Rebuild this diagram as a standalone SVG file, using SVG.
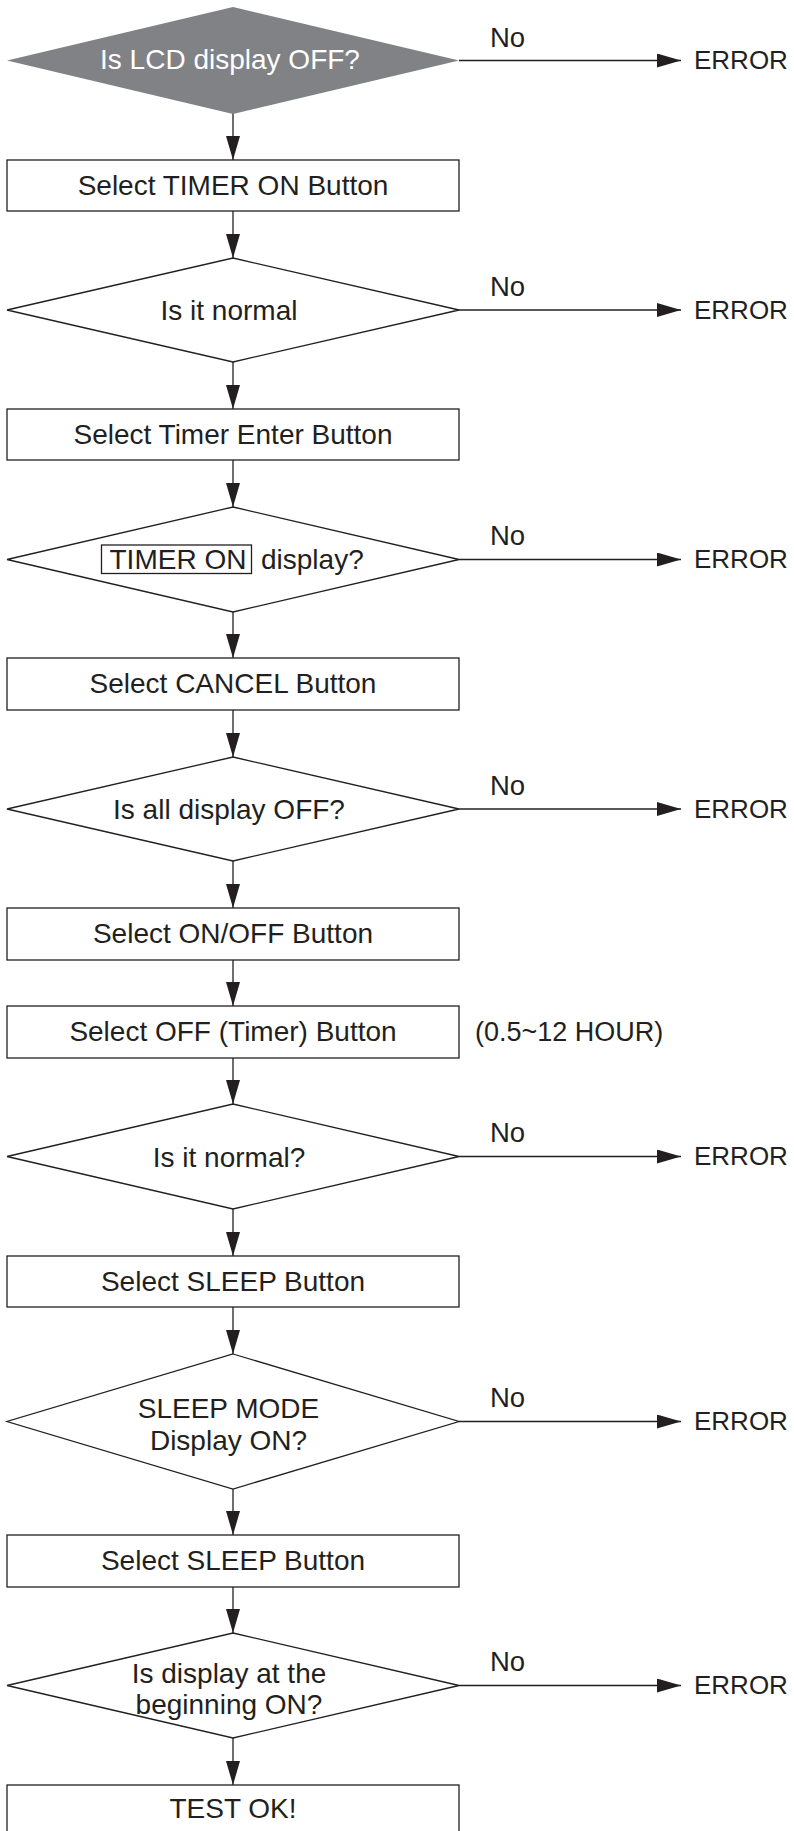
<svg xmlns="http://www.w3.org/2000/svg" width="794" height="1831" viewBox="0 0 794 1831">
<style>
.shape{fill:#fff;stroke:#231f20;stroke-width:1.3}
.dark{fill:#808285;stroke:none}
.t{font-family:"Liberation Sans",Arial,sans-serif;font-size:28px;fill:#231f20;text-anchor:middle}
.w{fill:#fff}
.l{text-anchor:start}
.note{font-size:27px}
.lbl{font-family:"Liberation Sans",Arial,sans-serif;font-size:26px;fill:#231f20}
.no{font-size:27.5px}
.c{fill:none;stroke:#231f20;stroke-width:1.3}
</style>
<defs>
<marker id="ah" markerUnits="userSpaceOnUse" markerWidth="24" markerHeight="14" refX="24" refY="7" orient="auto" viewBox="0 0 24 14">
<path d="M0,0 L24,7 L0,14 z" fill="#231f20"/>
</marker>
</defs>
<rect width="794" height="1831" fill="#fff"/>
<g id="connectors">
<path class="c" d="M233,113 V160" marker-end="url(#ah)"/>
<path class="c" d="M233,211 V258" marker-end="url(#ah)"/>
<path class="c" d="M233,362 V409" marker-end="url(#ah)"/>
<path class="c" d="M233,460 V507" marker-end="url(#ah)"/>
<path class="c" d="M233,612 V658" marker-end="url(#ah)"/>
<path class="c" d="M233,710 V757" marker-end="url(#ah)"/>
<path class="c" d="M233,861 V908" marker-end="url(#ah)"/>
<path class="c" d="M233,960 V1006" marker-end="url(#ah)"/>
<path class="c" d="M233,1058 V1104" marker-end="url(#ah)"/>
<path class="c" d="M233,1209 V1256" marker-end="url(#ah)"/>
<path class="c" d="M233,1307 V1354" marker-end="url(#ah)"/>
<path class="c" d="M233,1489 V1535" marker-end="url(#ah)"/>
<path class="c" d="M233,1587 V1633" marker-end="url(#ah)"/>
<path class="c" d="M233,1738 V1785" marker-end="url(#ah)"/>
<path class="c" d="M459,60.5 H681" marker-end="url(#ah)"/>
<path class="c" d="M459,310 H681" marker-end="url(#ah)"/>
<path class="c" d="M459,559.5 H681" marker-end="url(#ah)"/>
<path class="c" d="M459,809 H681" marker-end="url(#ah)"/>
<path class="c" d="M459,1156.5 H681" marker-end="url(#ah)"/>
<path class="c" d="M459,1421.5 H681" marker-end="url(#ah)"/>
<path class="c" d="M459,1685.5 H681" marker-end="url(#ah)"/>
<g class="lbl">
<text class="no" x="490" y="46.5">No</text><text x="694" y="69">ERROR</text>
<text class="no" x="490" y="295.5">No</text><text x="694" y="318.5">ERROR</text>
<text class="no" x="490" y="545">No</text><text x="694" y="568">ERROR</text>
<text class="no" x="490" y="794.5">No</text><text x="694" y="817.5">ERROR</text>
<text class="no" x="490" y="1142">No</text><text x="694" y="1165">ERROR</text>
<text class="no" x="490" y="1407">No</text><text x="694" y="1430">ERROR</text>
<text class="no" x="490" y="1671">No</text><text x="694" y="1694">ERROR</text>
</g>
</g>
<g id="d1"><polygon class="dark" points="233,7 459,60.5 233,114 7,60.5"/><text class="t w" x="230" y="69">Is LCD display OFF?</text></g>
<g id="b1"><rect class="shape" x="7" y="160" width="452" height="51"/><text class="t" x="233" y="194.5">Select TIMER ON Button</text></g>
<g id="d2"><polygon class="shape" points="233,258 459,310 233,362 7,310"/><text class="t" x="229" y="320">Is it normal</text></g>
<g id="b2"><rect class="shape" x="7" y="409" width="452" height="51"/><text class="t" x="233" y="443.5">Select Timer Enter Button</text></g>
<g id="d3"><polygon class="shape" points="233,507 459,559.5 233,612 7,559.5"/><rect class="shape" x="101.5" y="545" width="150" height="28.5"/><text class="t l" x="109.5" y="568.5">TIMER ON</text><text class="t l" x="261" y="568.5">display?</text></g>
<g id="b3"><rect class="shape" x="7" y="658" width="452" height="52"/><text class="t" x="233" y="693">Select CANCEL Button</text></g>
<g id="d4"><polygon class="shape" points="233,757 459,809 233,861 7,809"/><text class="t" x="229" y="819">Is all display OFF?</text></g>
<g id="b4"><rect class="shape" x="7" y="908" width="452" height="52"/><text class="t" x="233" y="943">Select ON/OFF Button</text></g>
<g id="b5"><rect class="shape" x="7" y="1006" width="452" height="52"/><text class="t" x="233" y="1041">Select OFF (Timer) Button</text><text class="t l note" x="475" y="1041">(0.5~12 HOUR)</text></g>
<g id="d5"><polygon class="shape" points="233,1104 459,1156.5 233,1209 7,1156.5"/><text class="t" x="229" y="1166.5">Is it normal?</text></g>
<g id="b6"><rect class="shape" x="7" y="1256" width="452" height="51"/><text class="t" x="233" y="1290.5">Select SLEEP Button</text></g>
<g id="d6"><polygon class="shape" points="233,1354 459,1421.5 233,1489 7,1421.5"/><text class="t" x="228.5" y="1418">SLEEP MODE</text><text class="t" x="228.5" y="1450">Display ON?</text></g>
<g id="b7"><rect class="shape" x="7" y="1535" width="452" height="52"/><text class="t" x="233" y="1570">Select SLEEP Button</text></g>
<g id="d7"><polygon class="shape" points="233,1633 459,1685.5 233,1738 7,1685.5"/><text class="t" x="229" y="1682.5">Is display at the</text><text class="t" x="229" y="1714">beginning ON?</text></g>
<g id="b8"><rect class="shape" x="7" y="1785" width="452" height="52"/><text class="t" x="233" y="1817.5">TEST OK!</text></g>
</svg>
